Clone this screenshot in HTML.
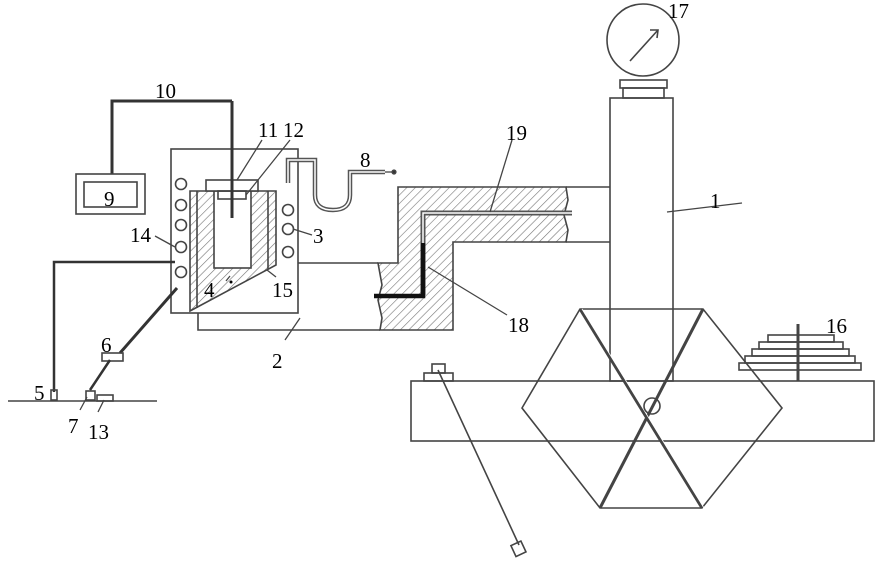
<!DOCTYPE html>
<html><head><meta charset="utf-8"><style>
html,body{margin:0;padding:0;background:#fff}
svg text{font-family:"Liberation Serif",serif;font-size:21px;fill:#000}
</style></head><body>
<svg width="885" height="567" viewBox="0 0 885 567" xmlns="http://www.w3.org/2000/svg">
<defs>
<pattern id="h" width="6" height="6" patternUnits="userSpaceOnUse" patternTransform="rotate(45)">
<rect width="6" height="6" fill="#fff"/><line x1="0" y1="0" x2="0" y2="6" stroke="#777" stroke-width="1.2"/>
</pattern>
</defs>
<g fill="none" stroke="#444" stroke-width="1.6">
<!-- gauge -->
<circle cx="643" cy="40" r="36"/>
<line x1="630" y1="61" x2="658" y2="30"/>
<polyline points="650,30 658,30 657,38"/>
<rect x="620" y="80" width="47" height="8"/>
<rect x="623" y="88" width="41" height="10"/>
<!-- column -->
<rect x="610" y="98" width="63" height="283"/>
<!-- base -->
<rect x="411" y="381" width="463" height="60"/>
<rect x="424" y="373" width="29" height="8"/>
<rect x="432" y="364" width="13" height="9"/>
<line x1="438" y1="370" x2="519" y2="545"/>
<rect x="513" y="543" width="11" height="12" transform="rotate(-25 518 549)"/>
<!-- hexagon -->
<polygon points="580,309 703,309 782,408 702,508 600,508 522,408"/>
<line x1="580" y1="309" x2="702" y2="508" stroke-width="3"/>
<line x1="703" y1="309" x2="600" y2="508" stroke-width="3"/>
<line x1="582" y1="309" x2="704" y2="508" stroke="#fff" stroke-width="0.8"/>
<circle cx="652" cy="406" r="8"/>
<!-- weights -->
<rect x="739" y="363" width="122" height="7"/>
<rect x="745" y="356" width="110" height="7"/>
<rect x="752" y="349" width="97" height="7"/>
<rect x="759" y="342" width="84" height="7"/>
<rect x="768" y="335" width="66" height="7"/>
<line x1="798" y1="324" x2="798" y2="381" stroke-width="3"/>
<!-- mold -->
<path d="M398,187 H566 L568,200 L564,215 L568,230 L566,242 H453 V330 H380 L382,318 L378,300 L382,285 L378,263 H398 Z" fill="url(#h)"/>
<line x1="566" y1="187" x2="610" y2="187"/>
<line x1="566" y1="242" x2="610" y2="242"/>
<polyline points="423,295 423,213 572,213" stroke="#555" stroke-width="5"/>
<polyline points="423,295 423,213 572,213" stroke="#fff" stroke-width="1.5"/>
<polyline points="423,243 423,296 374,296" stroke="#111" stroke-width="4.5"/>
<line x1="490" y1="212" x2="512" y2="140" stroke-width="1.3"/>
<line x1="428" y1="267" x2="507" y2="315" stroke-width="1.3"/>
<!-- channel 2 -->
<polyline points="298,263 378,263"/>
<polyline points="198,313 198,330 380,330"/>
<line x1="285" y1="340" x2="300" y2="318" stroke-width="1.3"/>
<!-- furnace box -->
<rect x="171" y="149" width="127" height="164"/>
<!-- crucible -->
<path d="M190,191 H276 V265 L190,311 Z" fill="url(#h)"/>
<line x1="197" y1="191" x2="197" y2="308"/>
<line x1="268" y1="191" x2="268" y2="269"/>
<rect x="214" y="191" width="37" height="77" fill="#fff"/>
<rect x="206" y="180" width="52" height="11" fill="#fff"/>
<rect x="218" y="191" width="28" height="8"/>
<line x1="232" y1="101" x2="232" y2="218" stroke="#333" stroke-width="3"/>
<polyline points="112,174 112,101 232,101" stroke="#333" stroke-width="3"/>
<rect x="76" y="174" width="69" height="40"/>
<rect x="84" y="182" width="53" height="25"/>
<!-- coils -->
<circle cx="181" cy="184" r="5.5"/><circle cx="181" cy="205" r="5.5"/><circle cx="181" cy="225" r="5.5"/>
<circle cx="181" cy="247" r="5.5"/><circle cx="181" cy="272" r="5.5"/>
<circle cx="288" cy="210" r="5.5"/><circle cx="288" cy="229" r="5.5"/><circle cx="288" cy="252" r="5.5"/>
<!-- U tube -->
<path d="M288,183 V160 H315 V195 Q315,210 333,210 Q350,210 350,195 V172 H385" stroke="#555" stroke-width="4.5"/>
<path d="M288,183 V160 H315 V195 Q315,210 333,210 Q350,210 350,195 V172 H385" stroke="#fff" stroke-width="1.5"/>
<line x1="385" y1="172" x2="393" y2="172" stroke-width="1.3"/>
<circle cx="394" cy="172" r="1.8" fill="#333"/>
<!-- leader lines -->
<line x1="237" y1="180" x2="262" y2="140" stroke-width="1.3"/>
<line x1="246" y1="195" x2="290" y2="140" stroke-width="1.3"/>
<line x1="293" y1="229" x2="312" y2="235" stroke-width="1.3"/>
<line x1="155" y1="236" x2="175" y2="247" stroke-width="1.3"/>
<line x1="267" y1="270" x2="276" y2="277" stroke-width="1.3"/>
<line x1="226" y1="281" x2="230" y2="276" stroke-width="1.3"/>
<line x1="742" y1="203" x2="667" y2="212" stroke-width="1.3"/>
<!-- left wiring -->
<polyline points="175,262 54,262 54,392" stroke="#333" stroke-width="2.5"/>
<rect x="51" y="390" width="6" height="10"/>
<line x1="8" y1="401" x2="157" y2="401"/>
<line x1="177" y1="288" x2="120" y2="353" stroke="#333" stroke-width="3"/>
<rect x="102" y="353" width="21" height="8"/>
<line x1="110" y1="360" x2="90" y2="390" stroke="#333" stroke-width="2.5"/>
<rect x="86" y="391" width="9" height="9"/>
<rect x="97" y="395" width="16" height="6"/>
<line x1="87" y1="397" x2="80" y2="410" stroke-width="1.3"/>
<line x1="104" y1="400" x2="98" y2="412" stroke-width="1.3"/>
</g>
<circle cx="231" cy="282" r="1.5" fill="#000"/>
<text x="155" y="98">10</text>
<text x="104" y="206">9</text>
<text x="130" y="242">14</text>
<text x="258" y="137">11</text>
<text x="283" y="137">12</text>
<text x="360" y="167">8</text>
<text x="313" y="243">3</text>
<text x="204" y="297">4</text>
<text x="272" y="297">15</text>
<text x="272" y="368">2</text>
<text x="34" y="400">5</text>
<text x="101" y="352">6</text>
<text x="68" y="433">7</text>
<text x="88" y="439">13</text>
<text x="506" y="140">19</text>
<text x="508" y="332">18</text>
<text x="710" y="208">1</text>
<text x="668" y="18">17</text>
<text x="826" y="333">16</text>
</svg>
</body></html>
